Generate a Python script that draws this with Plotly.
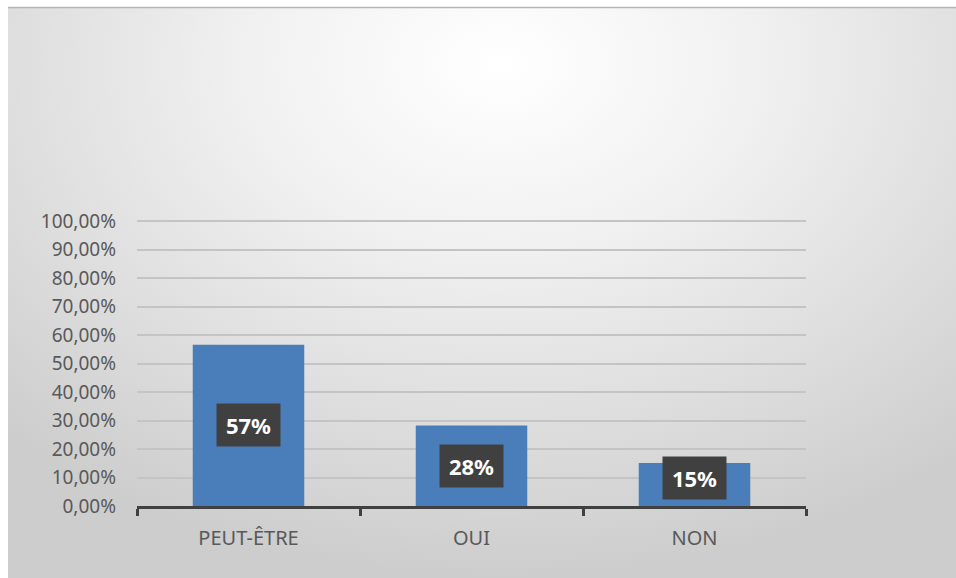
import plotly.graph_objects as go

categories = ['PEUT-ÊTRE', 'OUI', 'NON']
values = [0.566, 0.283, 0.151]
labels = ['57%', '28%', '15%']
y_ticks = [i / 10 for i in range(11)]

# page is 956x578; the chart frame starts at (8, 7)
W, H = 956, 578
FX, FY = 8, 7
L, R, T, B = 137, 806, 220, 506
pw, ph = R - L, B - T

# radial grey gradient for the chart background
bg_svg = (
    "data:image/svg+xml;utf8,"
    "<svg xmlns='http://www.w3.org/2000/svg' width='948' height='571' preserveAspectRatio='none'>"
    "<defs><radialGradient id='g' cx='0.52' cy='0.1' r='0.75' gradientTransform='translate(0.52 0.1) scale(1 1.2) translate(-0.52 -0.1)'>"
    "<stop offset='0' stop-color='%23ffffff'/>"
    "<stop offset='0.35' stop-color='%23f1f1f1'/>"
    "<stop offset='1' stop-color='%23cdcdcd'/>"
    "</radialGradient></defs>"
    "<rect width='948' height='571' fill='url(%23g)'/></svg>"
)

fig = go.Figure()

fig.add_trace(go.Bar(
    x=categories, y=values,
    marker=dict(color='#4a7ebb', line=dict(width=0)),
    width=0.5,
    hoverinfo='skip'
))

# data labels sit in the middle of the bar, but not too close to the axis
annotations = []
for cat, v, lab in zip(categories, values, labels):
    annotations.append(dict(
        x=cat, y=max(v / 2, 0.1), xref='x', yref='y',
        text=f'<b>{lab}</b>', showarrow=False,
        font=dict(family='Noto Sans', size=22, color='white'),
        bgcolor='#404040', borderpad=4,
        width=55, height=34,
        xanchor='center', yanchor='middle'
    ))

fig.update_layout(
    width=W, height=H,
    margin=dict(l=L, r=W - R, t=T, b=H - B),
    paper_bgcolor='white',
    plot_bgcolor='rgba(0,0,0,0)',
    separators=', ',
    showlegend=False,
    bargap=0.5,
    font=dict(family='Noto Sans', size=17, color='#595959'),
    annotations=annotations,
    images=[dict(
        source=bg_svg, xref='paper', yref='paper',
        x=(FX - L) / pw, y=(B - FY) / ph,
        sizex=(W - FX) / pw, sizey=(H - FY) / ph,
        sizing='stretch', layer='below',
        xanchor='left', yanchor='top'
    )],
    shapes=[dict(
        type='line', xref='paper', yref='paper',
        x0=(FX - L) / pw, x1=(W - L) / pw,
        y0=(B - FY - 0.5) / ph, y1=(B - FY - 0.5) / ph,
        line=dict(color='#b5b5b5', width=1.5), layer='below'
    )]
)

fig.update_xaxes(
    showline=True, linecolor='#404040', linewidth=3,
    ticks='outside', tickson='boundaries', ticklen=7, tickwidth=3,
    tickcolor='#404040', showgrid=False,
    ticklabelstandoff=12,
    tickfont=dict(size=20, color='#595959')
)
fig.update_yaxes(
    range=[0, 1.004], tickvals=y_ticks, tickformat='.2%',
    showgrid=True, gridcolor='#c4c4c4', gridwidth=1.5,
    zeroline=False, showline=False, ticks='',
    ticklabelstandoff=20,
    tickfont=dict(size=19, color='#595959')
)

fig.write_html(
    'out.html',
    config={'displayModeBar': False},
    post_script="document.body.style.margin='0';document.documentElement.style.overflow='hidden';"
)
